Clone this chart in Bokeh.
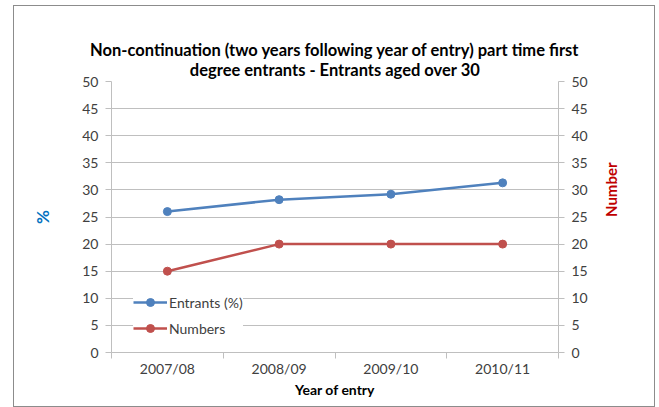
import math
from bokeh.plotting import figure
from bokeh.models import (LinearAxis, Range1d, FixedTicker, Legend, LegendItem, Title)
from bokeh.embed import file_html
from bokeh.resources import INLINE

years = ["2007/08", "2008/09", "2009/10", "2010/11"]
entrants_pct = [26.0, 28.2, 29.2, 31.3]
numbers = [15, 20, 20, 20]
y_ticks = list(range(0, 51, 5))
title_lines = ["Non-continuation (two years following year of entry) part time first",
               "degree entrants - Entrants aged over 30"]

FONT = "Lato"
GRID = "#bfbfbf"
TXT = "#404040"

xs = [i + 0.5 for i in range(len(years))]

p = figure(width=642, height=402, output_backend="svg", toolbar_location=None,
           x_range=Range1d(0, len(years)), y_range=Range1d(0, 50),
           min_border_left=97, min_border_right=98, min_border_top=75,
           min_border_bottom=56, outline_line_color=None)
p.margin = (5, 0, 0, 13)
p.styles = {"border": "1.5px solid #8c8c8c", "box-sizing": "border-box"}

# add bottom line first (closest to plot), then top line
for line, va in zip(reversed(title_lines), ["top", "bottom"]):
    t = Title(text=line, align="center", vertical_align=va, text_font=FONT,
              text_font_size="16.5px", text_font_style="bold", text_color="#000000",
              standoff=0)
    p.add_layout(t, "above")

p.extra_y_ranges = {"num": Range1d(0, 50)}

# x axis
xa = p.xaxis[0]
xa.ticker = FixedTicker(ticks=xs, minor_ticks=list(range(len(years) + 1)))
xa.major_label_overrides = {x: y for x, y in zip(xs, years)}
xa.major_tick_out = 0
xa.major_tick_in = 0
xa.minor_tick_out = 6
xa.minor_tick_in = 0
xa.minor_tick_line_color = GRID
xa.axis_line_color = GRID
xa.major_label_text_font = FONT
xa.major_label_text_font_size = "14px"
xa.major_label_text_color = TXT
xa.major_label_standoff = 1
xa.axis_label = "Year of entry"
xa.axis_label_text_font = FONT
xa.axis_label_text_font_style = "bold"
xa.axis_label_text_font_size = "14px"
xa.axis_label_text_color = "#000000"
xa.axis_label_standoff = 1

# left y axis
ya = p.yaxis[0]
ya.ticker = FixedTicker(ticks=y_ticks)
ya.minor_tick_line_color = None
ya.major_tick_out = 6
ya.major_tick_in = 0
ya.major_tick_line_color = GRID
ya.axis_line_color = GRID
ya.major_label_text_font = FONT
ya.major_label_text_font_size = "14px"
ya.major_label_text_color = TXT
ya.major_label_standoff = 7
ya.axis_label = "%"
ya.axis_label_text_font = FONT
ya.axis_label_text_font_style = "bold"
ya.axis_label_text_font_size = "17px"
ya.axis_label_text_color = "#0070C0"
ya.axis_label_standoff = 26

# right axis
ra = LinearAxis(y_range_name="num", ticker=FixedTicker(ticks=y_ticks))
ra.minor_tick_line_color = None
ra.major_tick_out = 6
ra.major_tick_in = 0
ra.major_tick_line_color = GRID
ra.axis_line_color = GRID
ra.major_label_text_font = FONT
ra.major_label_text_font_size = "14px"
ra.major_label_text_color = TXT
ra.major_label_standoff = 7
ra.axis_label = "Number"
ra.axis_label_text_font = FONT
ra.axis_label_text_font_style = "bold"
ra.axis_label_text_font_size = "15px"
ra.axis_label_text_color = "#C00000"
ra.axis_label_standoff = 20
ra.axis_label_orientation = math.pi / 2
p.add_layout(ra, "right")

p.xgrid.grid_line_color = None
p.ygrid.ticker = FixedTicker(ticks=y_ticks)
p.ygrid.grid_line_color = GRID

BLUE = "#4F81BD"
RED = "#C0504D"
l1 = p.line(xs, entrants_pct, line_color=BLUE, line_width=2.5)
c1 = p.scatter(xs, entrants_pct, size=8, fill_color=BLUE, line_color=BLUE)
l2 = p.line(xs, numbers, line_color=RED, line_width=2.5, y_range_name="num")
c2 = p.scatter(xs, numbers, size=8, fill_color=RED, line_color=RED, y_range_name="num")

legend = Legend(items=[LegendItem(label="Entrants (%)", renderers=[l1, c1]),
                       LegendItem(label="Numbers", renderers=[l2, c2])],
                location=(22, 14))
legend.label_text_font = FONT
legend.label_text_font_size = "14px"
legend.label_text_color = TXT
legend.border_line_color = None
legend.background_fill_alpha = 1.0
legend.glyph_width = 34
legend.label_standoff = 2
legend.spacing = 6
legend.padding = 4
legend.margin = 0
p.add_layout(legend, "center")

open("out.html", "w").write(file_html(p, INLINE))
